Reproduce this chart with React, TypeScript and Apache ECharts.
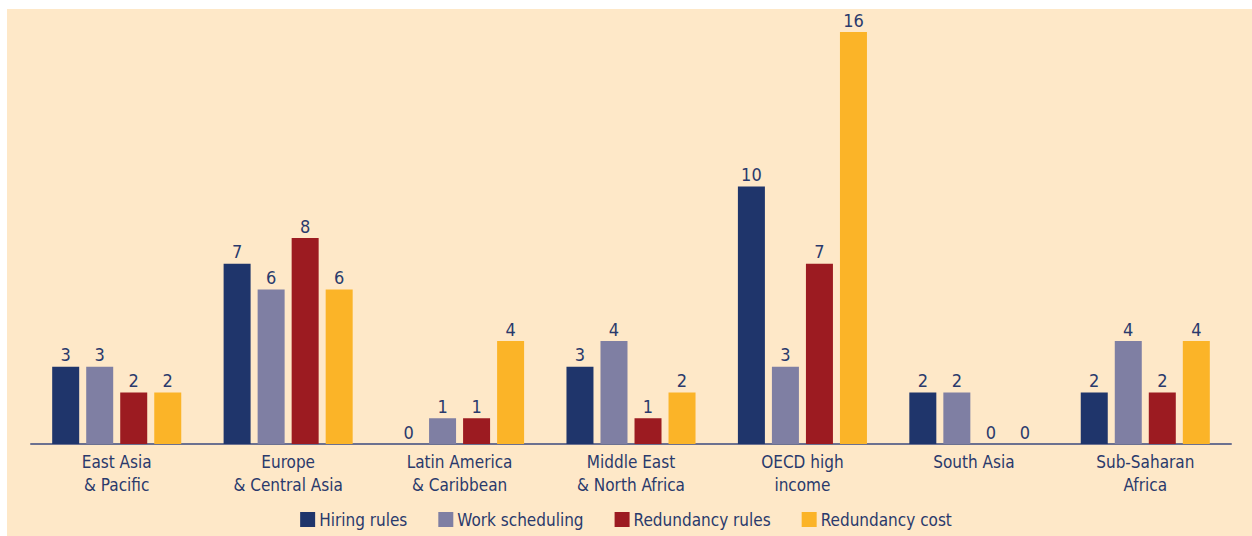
import React, { useEffect, useRef } from "react";
import * as echarts from "echarts";

const categories = [
  "East Asia\n& Pacific",
  "Europe\n& Central Asia",
  "Latin America\n& Caribbean",
  "Middle East\n& North Africa",
  "OECD high\nincome",
  "South Asia",
  "Sub-Saharan\nAfrica",
];
const hiringRules = [3, 7, 0, 3, 10, 2, 2];
const workScheduling = [3, 6, 1, 4, 3, 2, 4];
const redundancyRules = [2, 8, 1, 1, 7, 0, 2];
const redundancyCost = [2, 6, 4, 2, 16, 0, 4];

const seriesNames = ["Hiring rules", "Work scheduling", "Redundancy rules", "Redundancy cost"];
const seriesColors = ["#1F356B", "#7F7FA3", "#9C1B21", "#FBB428"];
const seriesData = [hiringRules, workScheduling, redundancyRules, redundancyCost];

const FONT = "'DejaVu Sans Condensed', 'Liberation Sans', sans-serif";
const TEXT = "#2A3A6C";

export default function App() {
  const ref = useRef<HTMLDivElement>(null);
  useEffect(() => {
    document.body.style.margin = "0";
    const chart = echarts.init(ref.current!, undefined, { renderer: "svg" });
    chart.setOption({
      animation: false,
      backgroundColor: "#FFFFFF",
      graphic: [
        {
          type: "rect",
          z: -10,
          silent: true,
          shape: { x: 7, y: 9, width: 1245, height: 527 },
          style: { fill: "#FEE8C8" },
        },
      ],
      grid: { left: 31, right: 21, top: 32, bottom: 92, containLabel: false },
      legend: {
        bottom: 3,
        left: "center",
        itemWidth: 15,
        itemHeight: 15,
        itemGap: 31,
        icon: "rect",
        textStyle: { fontFamily: FONT, fontSize: 17, color: TEXT, padding: [0, 0, 0, -1] },
        data: seriesNames,
      },
      xAxis: {
        type: "category",
        data: categories,
        axisLine: { show: true, lineStyle: { color: "#6C7190", width: 2 } },
        axisTick: { show: false },
        axisLabel: {
          fontFamily: FONT,
          fontSize: 17,
          color: TEXT,
          lineHeight: 23,
          margin: 6,
          interval: 0,
        },
      },
      yAxis: {
        type: "value",
        min: 0,
        max: 16,
        show: false,
        splitLine: { show: false },
      },
      series: seriesNames.map((name, i) => ({
        name,
        type: "bar",
        data: seriesData[i],
        barWidth: 27,
        barGap: "26%",
        itemStyle: {
          color: seriesColors[i],
        },
        label: {
          show: true,
          position: "top",
          distance: 3,
          fontFamily: FONT,
          fontSize: 18,
          color: TEXT,
        },
      })),
    });
    return () => chart.dispose();
  }, []);
  return <div ref={ref} style={{ width: 1252, height: 536 }} />;
}
